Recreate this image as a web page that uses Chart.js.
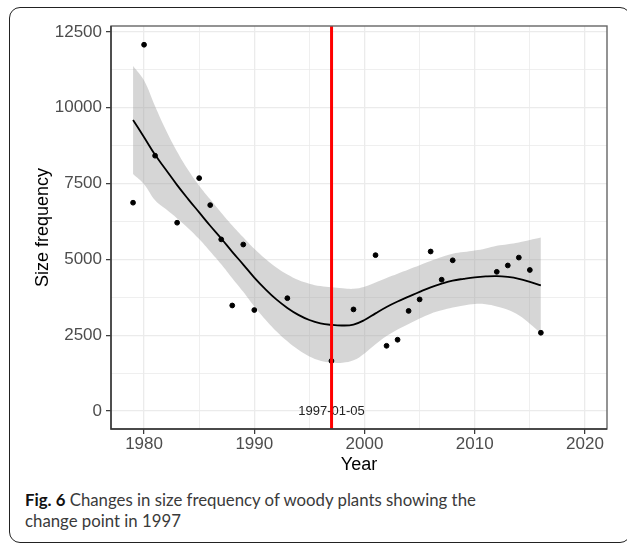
<!DOCTYPE html>
<html>
<head>
<meta charset="utf-8">
<script src="https://cdn.jsdelivr.net/npm/chart.js@4"></script>
<style>
  body { margin: 0; background: #fff; width: 627px; height: 544px; overflow: hidden; position: relative; }
  #frame { position: absolute; left: 9px; top: 7px; width: 622px; height: 536px; border: 1.5px solid #222; border-radius: 11px; box-sizing: border-box; }
  #wrap { position: absolute; left: 0; top: 0; width: 627px; height: 480px; }
  #caption { position: absolute; left: 25px; top: 489px; font-family: Lato; font-size: 16.8px; line-height: 21px; color: #3a3a3a; white-space: nowrap; }
  #caption b { color: #111; }
</style>
</head>
<body>
<div id="frame"></div>
<div id="wrap"><canvas id="myChart" width="627" height="480"></canvas></div>
<div id="caption"><b>Fig. 6</b> Changes in size frequency of woody plants showing the<br>change point in 1997</div>
<script>
// observed yearly values
const pointYears = [1979, 1980, 1981, 1983, 1985, 1986, 1987, 1988, 1989, 1990, 1993, 1997, 1999,
  2001, 2002, 2003, 2004, 2005, 2006, 2007, 2008, 2012, 2013, 2014, 2015, 2016];
const pointValues = [6870, 12080, 8420, 6210, 7680, 6790, 5660, 3480, 5490, 3330, 3720, 1650, 3350,
  5140, 2150, 2350, 3300, 3680, 5260, 4330, 4970, 4590, 4800, 5060, 4650, 2580];

// loess fit and its confidence band
const fitYears = [1979, 1980, 1981, 1982, 1983, 1984, 1985, 1986, 1987, 1988, 1989, 1990, 1991, 1992,
  1993, 1994, 1995, 1996, 1997, 1998, 1999, 2000, 2001, 2002, 2003, 2004, 2005, 2006, 2007, 2008,
  2009, 2010, 2011, 2012, 2013, 2014, 2015, 2016];
const fitValues = [9600, 9030, 8450, 7950, 7450, 6990, 6550, 6110, 5690, 5250, 4830, 4400, 4020, 3680,
  3400, 3170, 3000, 2890, 2840, 2820, 2850, 3000, 3220, 3430, 3610, 3770, 3930, 4080, 4200, 4300,
  4360, 4410, 4440, 4450, 4420, 4360, 4260, 4140];
const fitUpper = [11380, 10900, 10050, 9250, 8550, 7950, 7430, 6980, 6540, 6120, 5730, 5350, 5020, 4730,
  4500, 4320, 4200, 4120, 4080, 4050, 4030, 4100, 4240, 4390, 4530, 4670, 4810, 4950, 5080, 5190,
  5240, 5290, 5360, 5450, 5500, 5560, 5640, 5720];
const fitLower = [7820, 7480, 6950, 6650, 6350, 6030, 5670, 5260, 4840, 4380, 3930, 3450, 3020, 2630,
  2300, 2020, 1800, 1660, 1600, 1590, 1670, 1900, 2200, 2470, 2690, 2870, 3050, 3210, 3320, 3410,
  3480, 3530, 3520, 3450, 3340, 3160, 2880, 2560];

const changeYear = 1997.01;
const changeLabel = "1997-01-05";

const xMajorTicks = [1980, 1990, 2000, 2010, 2020];
const xMinorTicks = [1985, 1995, 2005, 2015];
const yMajorTicks = [0, 2500, 5000, 7500, 10000, 12500];
const yMinorTicks = [1250, 3750, 6250, 8750, 11250];

const toXY = (xs, ys) => xs.map((x, i) => ({ x: x, y: ys[i] }));
const isMajor = (list) => (c) => c.tick && list.includes(c.tick.value);

const changePlugin = {
  id: "changepoint",
  beforeDatasetsDraw(chart) {
    const { ctx, scales: { x, y } } = chart;
    ctx.save();
    ctx.font = '13px "Liberation Sans"';
    ctx.fillStyle = "#222";
    ctx.textAlign = "center";
    ctx.textBaseline = "middle";
    ctx.fillText(changeLabel, x.getPixelForValue(changeYear), y.getPixelForValue(0));
    ctx.restore();
  },
  afterDatasetsDraw(chart) {
    const { ctx, chartArea: a, scales: { x } } = chart;
    const cx = x.getPixelForValue(changeYear);
    ctx.save();
    ctx.strokeStyle = "#ff0000";
    ctx.lineWidth = 3;
    ctx.beginPath();
    ctx.moveTo(cx, a.top);
    ctx.lineTo(cx, a.bottom);
    ctx.stroke();
    // panel border
    ctx.lineWidth = 1.4;
    ctx.strokeStyle = "#666";
    ctx.strokeRect(a.left, a.top, a.right - a.left, a.bottom - a.top);
    ctx.strokeStyle = "#333";
    ctx.beginPath();
    ctx.moveTo(a.left, a.top);
    ctx.lineTo(a.left, a.bottom);
    ctx.lineTo(a.right, a.bottom);
    ctx.stroke();
    ctx.restore();
  },
};

var ctx = document.getElementById("myChart").getContext("2d");
var myChart = new Chart(ctx, {
  type: "scatter",
  data: {
    datasets: [
      {
        label: "Size frequency",
        data: toXY(pointYears, pointValues),
        backgroundColor: "#000",
        borderColor: "#000",
        pointRadius: 2.4,
        order: 1,
      },
      {
        type: "line",
        label: "loess",
        data: toXY(fitYears, fitValues),
        borderColor: "#000",
        borderWidth: 1.8,
        pointRadius: 0,
        tension: 0.4,
        fill: false,
        order: 2,
      },
      {
        type: "line",
        label: "upper",
        data: toXY(fitYears, fitUpper),
        borderWidth: 0,
        borderColor: "rgba(0,0,0,0)",
        backgroundColor: "rgba(153,153,153,0.4)",
        pointRadius: 0,
        tension: 0.4,
        fill: "+1",
        order: 3,
      },
      {
        type: "line",
        label: "lower",
        data: toXY(fitYears, fitLower),
        borderWidth: 0,
        borderColor: "rgba(0,0,0,0)",
        pointRadius: 0,
        tension: 0.4,
        fill: false,
        order: 4,
      },
    ],
  },
  options: {
    responsive: false,
    animation: false,
    layout: { padding: { left: 0, right: 20, top: 26, bottom: 0 } },
    plugins: {
      legend: { display: false },
      tooltip: { enabled: false },
    },
    scales: {
      x: {
        type: "linear",
        min: 1977,
        max: 2022,
        afterBuildTicks: (s) => {
          s.ticks = xMajorTicks.concat(xMinorTicks).sort((a, b) => a - b).map((v) => ({ value: v }));
        },
        afterFit: (s) => { s.height = 51; },
        ticks: {
          autoSkip: false,
          maxRotation: 0,
          padding: 0,
          color: "#4d4d4d",
          font: { family: "Liberation Sans", size: 17 },
          callback: (v) => (xMajorTicks.includes(v) ? String(v) : ""),
        },
        grid: {
          color: "#ebebeb",
          lineWidth: (c) => (isMajor(xMajorTicks)(c) ? 1.3 : 0.8),
          tickLength: 5,
          tickWidth: 1.2,
          tickColor: (c) => (isMajor(xMajorTicks)(c) ? "#333" : "rgba(0,0,0,0)"),
        },
        border: { display: false },
        title: {
          display: true,
          text: "Year",
          color: "#000",
          font: { family: "Liberation Sans", size: 18 },
          padding: { top: 0, bottom: 4 },
        },
      },
      y: {
        min: -594,
        max: 12698,
        afterBuildTicks: (s) => {
          s.ticks = yMajorTicks.concat(yMinorTicks).sort((a, b) => a - b).map((v) => ({ value: v }));
        },
        afterFit: (s) => { s.width = 111; },
        ticks: {
          autoSkip: false,
          padding: 4,
          color: "#4d4d4d",
          font: { family: "Liberation Sans", size: 17 },
          callback: (v) => (yMajorTicks.includes(v) ? String(v) : ""),
        },
        grid: {
          color: "#ebebeb",
          lineWidth: (c) => (isMajor(yMajorTicks)(c) ? 1.3 : 0.8),
          tickLength: 5,
          tickWidth: 1.2,
          tickColor: (c) => (isMajor(yMajorTicks)(c) ? "#333" : "rgba(0,0,0,0)"),
        },
        border: { display: false },
        title: {
          display: true,
          text: "Size frequency",
          color: "#000",
          font: { family: "Liberation Sans", size: 18 },
          padding: { top: 32, bottom: 0 },
        },
      },
    },
  },
  plugins: [changePlugin],
});
</script>
</body>
</html>
